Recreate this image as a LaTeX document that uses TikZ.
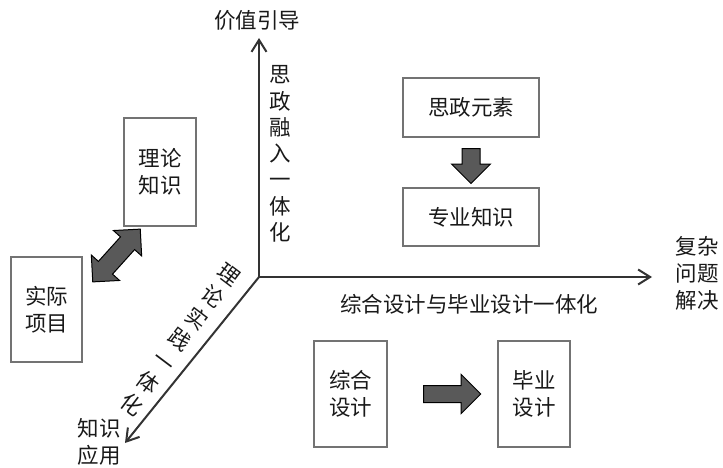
\documentclass[tikz,border=0pt]{standalone}
\usepackage{fontspec}
\setmainfont{Noto Sans CJK SC}
\usetikzlibrary{arrows.meta,shapes.arrows,calc}

\begin{document}
\begin{tikzpicture}[x=1pt, y=-1pt, >={Straight Barb[length=12pt,width=15pt]},
    every node/.style={font=\fontsize{21.5}{27}\selectfont, text=black!90, align=center},
    kuang/.style={draw=black!55, line width=1.6pt, inner sep=0pt},
    zhou/.style={->, draw=black!80, line width=2pt},
    jiantou/.style={draw=black, line width=1pt, fill=black!65, inner xsep=0pt}]
                \useasboundingbox (0,0) rectangle (723,468);

                % Ba truc
                \coordinate (O) at (259,277);
                \coordinate (Y) at (259,38);
                \coordinate (X) at (652,277);
                \coordinate (Z) at (125,443);
                \draw[zhou] (O) -- (Y);
                \draw[zhou] (O) -- (X);
                \draw[zhou] (O) -- (Z);

                % Nhan cua truc
                \node (jiazhi) at (257,20) {价值引导};
                \node (fuza) at (697,273) {复杂\\问题\\解决};
                \node (yingyong) at (99,442) {知识\\应用};
                \node[font=\fontsize{21.5}{26.3}\selectfont] (sizheng) at (280,154) {思\\政\\融\\入\\一\\体\\化};
                \node (zonghesheji) at (469,304) {综合设计与毕业设计一体化};
                \node[rotate=-37] (lilunshijian) at (180,340) {理\\论\\实\\践\\一\\体\\化};

                % --- Goc phan tu thu nhat ---
                \node[kuang, minimum width=136pt, minimum height=59pt] (yuansu) at (471,107.5) {思政元素};
                \node[kuang, minimum width=136pt, minimum height=58pt] (zhuanye) at (471,217) {专业知识};
                \node[jiantou, single arrow, rotate=-90, minimum height=35pt,
                      inner ysep=8.5pt, single arrow head extend=10.5pt] (xia)
                      at ($(yuansu.south)!0.48!(zhuanye.north)$) {};

                % --- Goc phan tu ben trai ---
                \node[kuang, minimum width=72pt, minimum height=108pt] (lilun) at (160,172) {理论\\知识};
                \node[kuang, minimum width=71pt, minimum height=105pt] (shiji) at (46.5,309.5) {实际\\项目};
                \node[jiantou, double arrow, rotate=48, minimum height=71pt,
                      inner ysep=9pt, double arrow head extend=9.5pt] (shuang) at (116.5,255.5) {};

                % --- Goc phan tu ben duoi ---
                \node[kuang, minimum width=73pt, minimum height=106pt] (zonghe) at (350.5,394) {综合\\设计};
                \node[kuang, minimum width=72pt, minimum height=106pt] (biye) at (534,394) {毕业\\设计};
                \node[jiantou, single arrow, minimum height=57pt,
                      inner ysep=8pt, single arrow head extend=11pt] (you)
                      at ($(zonghe.east)!0.55!(biye.west)$) {};

            \end{tikzpicture}
\end{document}
